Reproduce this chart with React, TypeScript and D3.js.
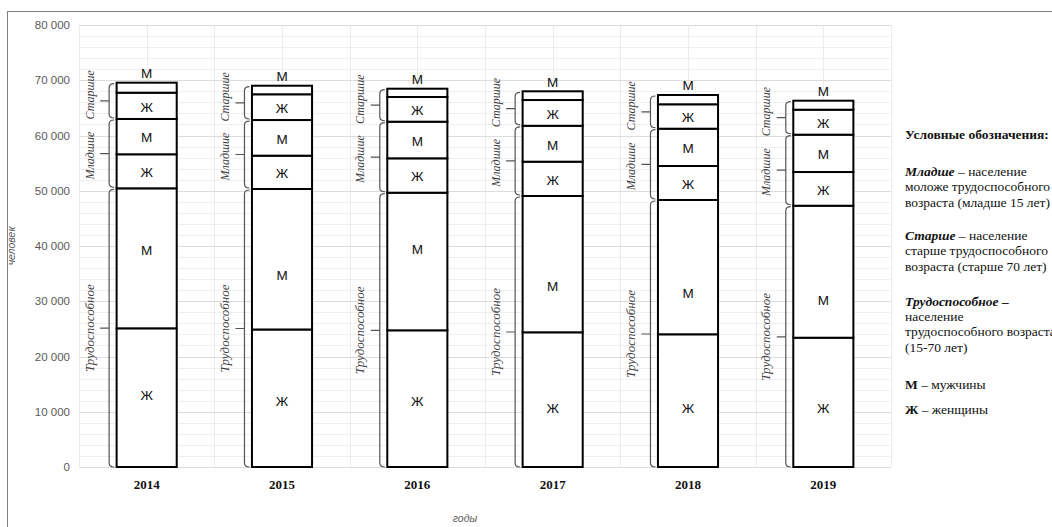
import React from 'react';
import * as d3 from 'd3';

// ---- data ----
const years = ['2014', '2015', '2016', '2017', '2018', '2019'];
const workingFemale = [25100, 24890, 24740, 24380, 24020, 23400];
const workingMale = [25340, 25430, 24910, 24670, 24310, 23890];
const youngFemale = [6160, 6030, 6220, 6210, 6150, 6100];
const youngMale = [6390, 6450, 6630, 6500, 6750, 6760];
const oldFemale = [4760, 4660, 4470, 4660, 4420, 4520];
const oldMale = [1810, 1550, 1500, 1580, 1680, 1630];
// where the "М"/"Ж" letters of the working-age segments sit (in persons)
const workingMaleLabelAt = [39300, 34700, 39500, 32800, 31500, 30200];
const workingFemaleLabelAt = [13000, 12000, 12000, 10700, 10600, 10600];
const yTicks = [0, 10000, 20000, 30000, 40000, 50000, 60000, 70000, 80000];
const segmentKeys = ['wf', 'wm', 'yf', 'ym', 'of', 'om'];
const segmentLetters = ['Ж', 'М', 'Ж', 'М', 'Ж', 'М'];
const groupNames = ['Трудоспособное', 'Младшие', 'Старшие'];
const yTitle = 'человек';
const xTitle = 'годы';

const W = 1052;
const H = 527;
const serif = '"Liberation Serif", "Times New Roman", serif';
const sans = '"Liberation Sans", Arial, sans-serif';

export default function App() {
  const rows = years.map((y, i) => ({
    year: y,
    wf: workingFemale[i],
    wm: workingMale[i],
    yf: youngFemale[i],
    ym: youngMale[i],
    of: oldFemale[i],
    om: oldMale[i],
  }));
  const stacked = d3.stack<any>().keys(segmentKeys)(rows);

  const x = d3.scaleBand<string>().domain(years).range([79, 891]).padding(0);
  const y = d3.scaleLinear().domain([0, 80000]).range([467, 25]);
  const barW = x.bandwidth() * 0.444;

  const locale = d3.formatLocale({ decimal: ',', thousands: ' ', grouping: [3], currency: ['', ''] });
  const fmt = locale.format(',');

  const minorTicks = d3.range(0, 80001, 2000).filter((v) => v % 10000 !== 0);
  const [x0, x1] = x.range();
  const vLines = d3.range(0, years.length * 2 + 1).map((k) => x0 + (k * x.bandwidth()) / 2);

  const legendLines: { y: number; parts: { t: string; b?: boolean; i?: boolean }[] }[] = [
    { y: 139, parts: [{ t: 'Условные обозначения:', b: true }] },
    { y: 176, parts: [{ t: 'Младше', b: true, i: true }, { t: ' – население' }] },
    { y: 191, parts: [{ t: 'моложе трудоспособного' }] },
    { y: 207, parts: [{ t: 'возраста (младше 15 лет)' }] },
    { y: 240, parts: [{ t: 'Старше', b: true, i: true }, { t: ' – население' }] },
    { y: 255, parts: [{ t: 'старше трудоспособного' }] },
    { y: 271, parts: [{ t: 'возраста (старше 70 лет)' }] },
    { y: 306, parts: [{ t: 'Трудоспособное', b: true, i: true }, { t: ' –', b: true, i: true }] },
    { y: 321, parts: [{ t: 'население' }] },
    { y: 336, parts: [{ t: 'трудоспособного возраста' }] },
    { y: 352, parts: [{ t: '(15-70 лет)' }] },
    { y: 389, parts: [{ t: 'М', b: true }, { t: ' – мужчины' }] },
    { y: 414, parts: [{ t: 'Ж', b: true }, { t: ' – женщины' }] },
  ];

  const groupFont = [13, 12, 12];
  const groupShift = [0, 2, -6];

  return (
    <svg
      width={W}
      height={H}
      style={{ position: 'absolute', left: 0, top: 0, background: '#fff' }}
      xmlns="http://www.w3.org/2000/svg"
    >
      <rect x={0} y={0} width={W} height={H} fill="#fff" />
      {/* outer frame */}
      <rect x={7.5} y={11.5} width={W + 20} height={H + 20} fill="none" stroke="#7f7f7f" strokeWidth={1} />

      {/* gridlines */}
      {minorTicks.map((v) => (
        <line key={'mn' + v} x1={x0} x2={x1} y1={Math.round(y(v)) + 0.5} y2={Math.round(y(v)) + 0.5} stroke="#f0f0f0" />
      ))}
      {vLines.map((vx, k) => (
        <line key={'v' + k} x1={Math.round(vx) + 0.5} x2={Math.round(vx) + 0.5} y1={y(80000)} y2={y(0)} stroke="#ececec" />
      ))}
      {yTicks.map((v) => (
        <line key={'mj' + v} x1={x0} x2={x1} y1={Math.round(y(v)) + 0.5} y2={Math.round(y(v)) + 0.5} stroke="#dcdcdc" />
      ))}

      {/* y tick labels */}
      {yTicks.map((v) => (
        <text key={'t' + v} x={70} y={y(v)} dy="0.35em" textAnchor="end" fontFamily={sans} fontSize={11.5} fill="#595959">
          {fmt(v)}
        </text>
      ))}

      {/* axis titles */}
      <text
        transform={`translate(15,${(y(0) + y(80000)) / 2}) rotate(-90)`}
        textAnchor="middle"
        fontFamily={sans}
        fontStyle="italic"
        fontSize={10.5}
        fill="#595959"
      >
        {yTitle}
      </text>
      <text x={465} y={522} textAnchor="middle" fontFamily={sans} fontStyle="italic" fontSize={10.5} fill="#595959">
        {xTitle}
      </text>

      {/* bars */}
      {years.map((yr, i) => {
        const cx = (x(yr) as number) + x.bandwidth() / 2;
        const left = cx - barW / 2;
        const bx = left - 7.5;
        const bounds = stacked.map((s) => [y(s[i][0]), y(s[i][1])]);
        const groups = [0, 1, 2].map((g) => ({
          bottom: bounds[g * 2][0],
          top: bounds[g * 2 + 1][1],
        }));
        return (
          <g key={yr}>
            {/* brackets */}
            {groups.map((g, gi) => {
              const y1 = g.top + 1;
              const y2 = g.bottom - (gi === 0 ? 0 : 1);
              const mid = (y1 + y2) / 2;
              return (
                <g key={gi}>
                  <path
                    d={`M${bx + 5},${y1} Q${bx},${y1} ${bx},${y1 + 4} L${bx},${y2 - 4} Q${bx},${y2} ${bx + 5},${y2} M${bx},${mid} L${bx - 9},${mid}`}
                    fill="none"
                    stroke="#555"
                    strokeWidth={1.2}
                  />
                  <text
                    transform={`translate(${left - 23},${mid + groupShift[gi]}) rotate(-90)`}
                    textAnchor="middle"
                    fontFamily={serif}
                    fontStyle="italic"
                    fontSize={groupFont[gi]}
                    fill="#404040"
                  >
                    {groupNames[gi]}
                  </text>
                </g>
              );
            })}
            {/* segments */}
            {stacked.map((s, k) => (
              <rect
                key={k}
                x={left}
                y={y(s[i][1])}
                width={barW}
                height={y(s[i][0]) - y(s[i][1])}
                fill="#fff"
                stroke="#000"
                strokeWidth={2}
              />
            ))}
            {/* letters */}
            {stacked.map((s, k) => {
              let ty: number;
              if (k === 0) ty = y(workingFemaleLabelAt[i]);
              else if (k === 1) ty = y(workingMaleLabelAt[i]);
              else if (k === 5) ty = y(s[i][1]) - 9.5;
              else ty = (y(s[i][0]) + y(s[i][1])) / 2 + 1;
              return (
                <text key={'l' + k} x={cx} y={ty} dy="0.36em" textAnchor="middle" fontFamily={sans} fontSize={13.5} fill="#111">
                  {segmentLetters[k]}
                </text>
              );
            })}
            {/* year label */}
            <text x={cx} y={489} textAnchor="middle" fontFamily={serif} fontWeight="bold" fontSize={13} fill="#111">
              {yr}
            </text>
          </g>
        );
      })}

      {/* legend */}
      {legendLines.map((ln, k) => (
        <text key={'lg' + k} x={905} y={ln.y} fontFamily={serif} fontSize={13.5} fill="#111">
          {ln.parts.map((p, j) => (
            <tspan key={j} fontWeight={p.b ? 'bold' : 'normal'} fontStyle={p.i ? 'italic' : 'normal'}>
              {p.t}
            </tspan>
          ))}
        </text>
      ))}
    </svg>
  );
}
